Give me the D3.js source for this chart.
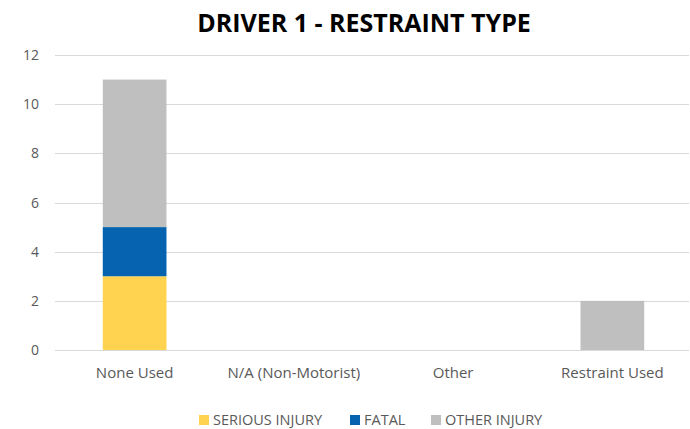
<!DOCTYPE html>
<html>
<head>
<meta charset="utf-8">
<script src="https://cdn.jsdelivr.net/npm/d3@7"></script>
<style>
  body { margin: 0; background: #fff; }
  svg text { font-family: "Open Sans", "Noto Sans", sans-serif; }
</style>
</head>
<body>
<div id="container"></div>
<script>
const categories = ['None Used', 'N/A (Non-Motorist)', 'Other', 'Restraint Used'];
const seriesNames = ['SERIOUS INJURY', 'FATAL', 'OTHER INJURY'];
const seriousInjury = [3, 0, 0, 0];
const fatal = [2, 0, 0, 0];
const otherInjury = [6, 0, 0, 2];
const yTicks = [0, 2, 4, 6, 8, 10, 12];

const colors = ['#FFD350', '#0563B0', '#BFBFBF'];
const width = 690;
const height = 429;
const margin = { top: 55, right: -2, bottom: 79, left: 55 };

const svg = d3.select('#container').append('svg')
    .attr('width', width)
    .attr('height', height);

// table for the stack
const rows = categories.map((c, i) => ({
    cat: c,
    'SERIOUS INJURY': seriousInjury[i],
    'FATAL': fatal[i],
    'OTHER INJURY': otherInjury[i]
}));
const stacked = d3.stack().keys(seriesNames)(rows);

const x = d3.scaleBand()
    .domain(categories)
    .range([margin.left, width - margin.right])
    .paddingInner(0.6)
    .paddingOuter(0.3);

const y = d3.scaleLinear()
    .domain([0, 12])
    .range([height - margin.bottom, margin.top]);

// gridlines
svg.append('g')
    .selectAll('line')
    .data(yTicks)
    .enter()
    .append('line')
    .attr('x1', margin.left)
    .attr('x2', width - 1)
    .attr('y1', d => Math.round(y(d)) + 0.5)
    .attr('y2', d => Math.round(y(d)) + 0.5)
    .attr('stroke', '#D9D9D9')
    .attr('stroke-width', 1);

// y labels
svg.append('g')
    .selectAll('text')
    .data(yTicks)
    .enter()
    .append('text')
    .attr('x', 39)
    .attr('y', d => y(d) + 5)
    .attr('text-anchor', 'end')
    .attr('font-size', 14)
    .attr('fill', '#595959')
    .text(d => d);

// bars
svg.append('g')
    .selectAll('g')
    .data(stacked)
    .enter()
    .append('g')
    .attr('fill', (d, i) => colors[i])
    .selectAll('rect')
    .data(d => d)
    .enter()
    .append('rect')
    .attr('x', d => x(d.data.cat))
    .attr('width', x.bandwidth())
    .attr('y', d => y(d[1]))
    .attr('height', d => y(d[0]) - y(d[1]));

// x labels
svg.append('g')
    .selectAll('text')
    .data(categories)
    .enter()
    .append('text')
    .attr('x', d => x(d) + x.bandwidth() / 2)
    .attr('y', 378)
    .attr('text-anchor', 'middle')
    .attr('font-size', 15)
    .attr('fill', '#595959')
    .text(d => d);

// title
svg.append('text')
    .attr('x', 364)
    .attr('y', 32)
    .attr('text-anchor', 'middle')
    .attr('font-size', 25)
    .attr('font-weight', 'bold')
    .attr('fill', '#000')
    .text('DRIVER 1 - RESTRAINT TYPE');

// legend
const legendX = [199, 350, 431];
const legend = svg.append('g')
    .selectAll('g')
    .data(seriesNames)
    .enter()
    .append('g')
    .attr('transform', (d, i) => `translate(${legendX[i]},415)`);
legend.append('rect')
    .attr('width', 10)
    .attr('height', 10)
    .attr('fill', (d, i) => colors[i]);
legend.append('text')
    .attr('x', 14)
    .attr('y', 10)
    .attr('font-size', 14.5)
    .attr('fill', '#595959')
    .text(d => d);
</script>
</body>
</html>
